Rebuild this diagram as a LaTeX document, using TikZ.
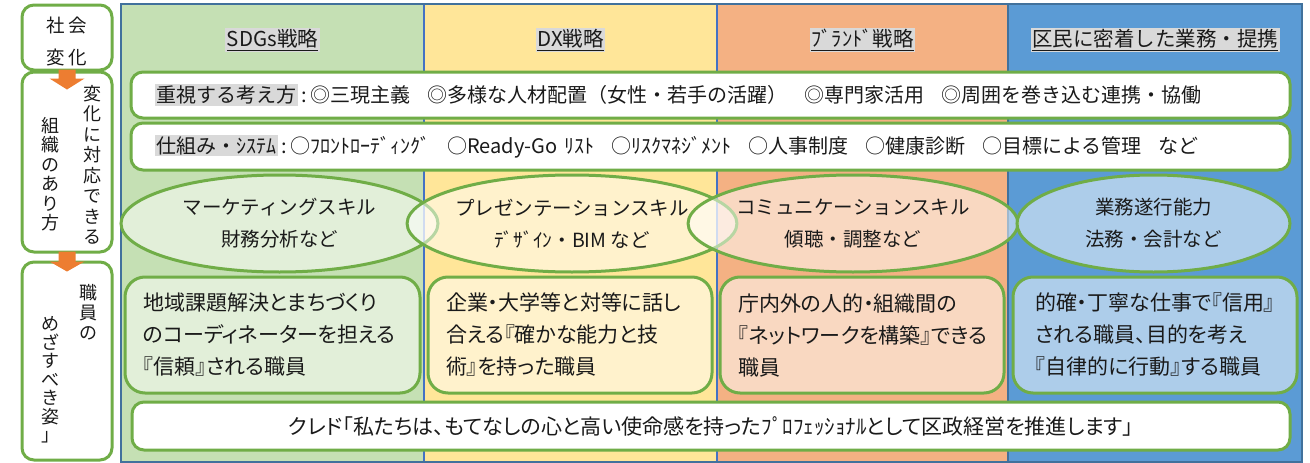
\documentclass[tikz,border=0pt]{standalone}
\usepackage{fontspec}
\setmainfont{Noto Sans CJK JP}
\newfontfamily\pfont[RawFeature=+palt]{Noto Sans CJK JP}
\usetikzlibrary{shapes.geometric,calc}
\definecolor{cgreen}{HTML}{C5E0B4}
\definecolor{cyellow}{HTML}{FFE699}
\definecolor{corange}{HTML}{F4B183}
\definecolor{cblue}{HTML}{5B9BD5}
\definecolor{gline}{HTML}{70AD47}
\definecolor{framec}{HTML}{41719C}
\definecolor{sepc}{HTML}{4472C4}
\definecolor{arrowc}{HTML}{ED7D31}
\definecolor{hlgray}{HTML}{D9D9D9}
\definecolor{txt}{HTML}{1A1A1A}
\newcommand\fsz[2]{\fontsize{#1}{#2}\selectfont}
\newcommand\gp{\hspace{17pt}}
\setlength\fboxsep{1.5pt}
\tikzset{
  gbox/.style={draw=gline, line width=3pt, rounded corners=12pt, fill=white},
  lbox/.style={gbox, minimum width=90pt, inner sep=0pt},
  rowbox/.style={gbox, minimum width=1159pt, inner xsep=24pt, text width=1111pt, align=left, font=\fsz{20}{24}},
  ell/.style={ellipse, draw=gline, line width=3pt, fill=white, fill opacity=0.5, text opacity=1,
    minimum height=97pt, inner sep=0pt, align=center, font=\fsz{19.5}{32}},
  sbox/.style={draw=gline, line width=3pt, rounded corners=20pt, fill=white, fill opacity=0.5, text opacity=1,
    minimum height=116pt, inner xsep=18pt, align=left, font=\pfont\fsz{21}{32}},
  vtext/.style={inner sep=0pt, align=center},
  head/.style={inner sep=0pt, font=\fsz{20.5}{24}},
  blockarrow/.style={fill=arrowc}
}
\begin{document}
\begin{tikzpicture}[x=1pt,y=-1pt, every node/.append style={text=txt}]
\useasboundingbox (0,0) rectangle (1310,463);
% columns
\fill[cgreen] (121,4) rectangle (424,462);
\fill[cyellow] (424,4) rectangle (717,462);
\fill[corange] (717,4) rectangle (1008,462);
\fill[cblue] (1008,4) rectangle (1302,462);
\draw[sepc, line width=1.5pt] (424,4) -- (424,462);
\draw[sepc, line width=1.5pt] (717,4) -- (717,462);
\draw[framec, line width=2.5pt] (1008,4) -- (1008,462);
\draw[framec, line width=2pt] (121,4) rectangle (1302,462);
% headers
\node[head] (h1) at (272.5,40) {\colorbox{hlgray}{\underline{SDGs戦略}}};
\node[head] (h2) at (570.5,40) {\colorbox{hlgray}{\underline{DX戦略}}};
\node[head] (h3) at (862.5,40) {\colorbox{hlgray}{\underline{ﾌﾞﾗﾝﾄﾞ戦略}}};
\node[head] (h4) at (1155,40) {\colorbox{hlgray}{\underline{区民に密着した業務・提携}}};
% rows
\node[rowbox, minimum height=46pt] (r1) at (710.5,95) {\colorbox{hlgray}{重視する考え方}\,:\,◎三現主義\gp ◎多様な人材配置（女性・若手の活躍）\gp ◎専門家活用\gp ◎周囲を巻き込む連携・協働};
\node[rowbox, minimum height=47pt] (r2) at (710.5,146.5) {\colorbox{hlgray}{仕組み・ｼｽﾃﾑ}\,:\,○ﾌﾛﾝﾄﾛｰﾃﾞｨﾝｸﾞ\gp ○Ready-Go ﾘｽﾄ\gp ○ﾘｽｸﾏﾈｼﾞﾒﾝﾄ\gp ○人事制度\gp ○健康診断\gp ○目標による管理\gp など};
% ellipses
\node[ell, minimum width=317pt] (e1) at (279.5,223.5) {マーケティングスキル\\財務分析など};
\node[ell, minimum width=326pt] (e2) at (572,223.5) {プレゼンテーションスキル\\ﾃﾞｻﾞｲﾝ・BIM など};
\node[ell, minimum width=310pt] (e3) at (853,223.5) {コミュニケーションスキル\\傾聴・調整など};
\node[ell, minimum width=273pt] (e4) at (1153.5,223.5) {業務遂行能力\\法務・会計など};
% staff boxes
\node[sbox, text width=259pt] (s1) at (272.5,335) {地域課題解決とまちづくり\\のコーディネーターを担える\\『信頼』される職員};
\node[sbox, text width=248pt] (s2) at (570,335) {企業・大学等と対等に話し\\合える『確かな能力と技\\術』を持った職員};
\node[sbox, text width=248pt] (s3) at (862,335) {庁内外の人的・組織間の\\『ネットワークを構築』できる\\職員};
\node[sbox, inner xsep=22pt, text width=240pt] (s4) at (1155,335) {的確・丁寧な仕事で『信用』\\される職員、目的を考え\\『自律的に行動』する職員};
% creed
\node[gbox, minimum width=1158pt, minimum height=48pt, font=\pfont\fsz{21}{24}] (cr) at (711,426) {クレド「私たちは、もてなしの心と高い使命感を持ったﾌﾟﾛﾌｪｯｼｮﾅﾙとして区政経営を推進します」};
% left column
\node[lbox, minimum height=65pt] (b1) at (67,37.5) {};
\node[lbox, minimum height=180pt] (b2) at (67,162) {};
\node[lbox, minimum height=198pt] (b3) at (67,361) {};
\node[vtext, font=\fsz{18.5}{32}] (t1) at (67,41) {社\,会\\変\,化};
\node[vtext, font=\fsz{18}{20.5}] (t2) at (92,165) {変\\化\\に\\対\\応\\で\\き\\る};
\node[vtext, font=\fsz{18}{19.5}] (t3) at (50,174) {組\\織\\の\\あ\\り\\方};
\node[vtext, font=\fsz{18}{20}] (t4) at (88,312) {職\\員\\の};
\node[vtext, font=\fsz{18}{18.5}] (t5) at (50,380) {め\\ざ\\す\\べ\\き\\姿\\」};
% arrows
\fill[blockarrow] ($(b1.south)+(-8.5,-2)$) -- ($(b1.south)+(-8.5,7)$) -- ($(b1.south)+(-17.5,7)$) -- ($(b1.south)+(0,18)$) -- ($(b1.south)+(17.5,7)$) -- ($(b1.south)+(8.5,7)$) -- ($(b1.south)+(8.5,-2)$) -- cycle;
\fill[blockarrow] ($(b2.south)+(-8.5,-2)$) -- ($(b2.south)+(-8.5,8)$) -- ($(b2.south)+(-17.5,8)$) -- ($(b2.south)+(0,18)$) -- ($(b2.south)+(17.5,8)$) -- ($(b2.south)+(8.5,8)$) -- ($(b2.south)+(8.5,-2)$) -- cycle;
\end{tikzpicture}
\end{document}
